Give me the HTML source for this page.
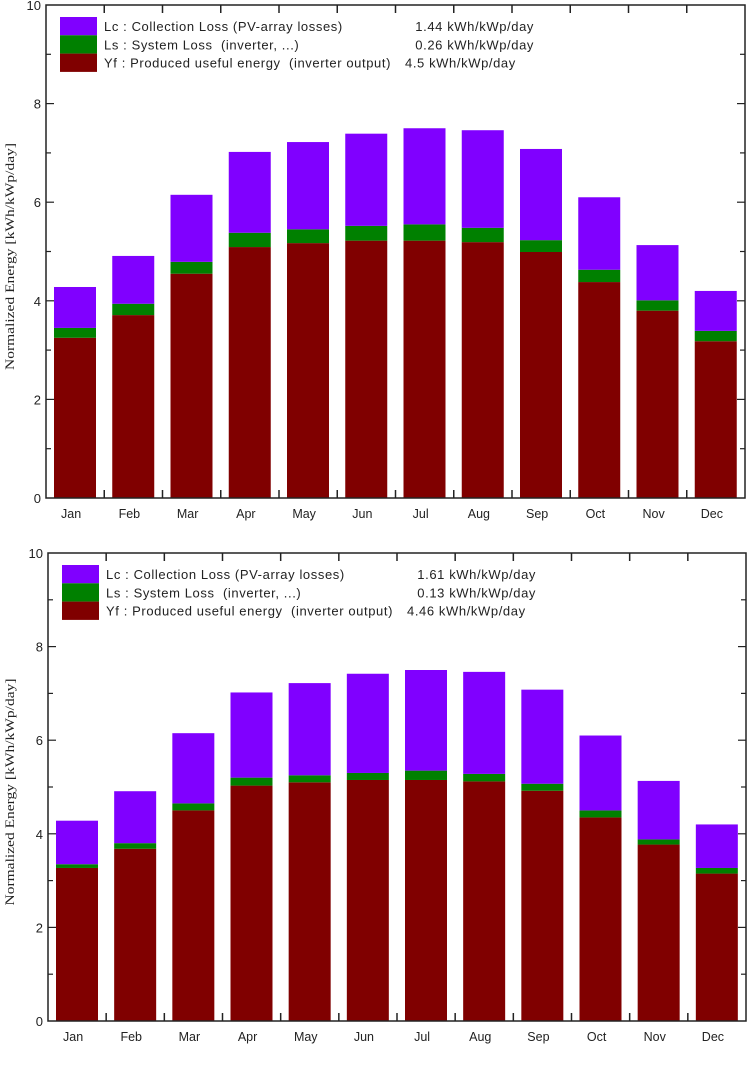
<!DOCTYPE html>
<html><head><meta charset="utf-8"><style>
html,body{margin:0;padding:0;background:#fff;}
svg{display:block;}
text{font-family:"Liberation Sans",sans-serif;fill:#222;}
</style></head><body>
<svg id="svg" width="749" height="1066" xmlns="http://www.w3.org/2000/svg"></svg>
<script>
const months=["Jan","Feb","Mar","Apr","May","Jun","Jul","Aug","Sep","Oct","Nov","Dec"];
const yTicks=[0,2,4,6,8,10];
const yfTop=[3.25,3.71,4.55,5.09,5.17,5.22,5.22,5.19,4.99,4.38,3.80,3.18];
const lsTop=[0.20,0.23,0.24,0.29,0.28,0.30,0.33,0.29,0.24,0.25,0.21,0.21];
const lcTop=[0.83,0.97,1.36,1.64,1.77,1.87,1.95,1.98,1.85,1.47,1.12,0.81];
const yfBot=[3.27,3.68,4.50,5.03,5.10,5.15,5.15,5.12,4.92,4.35,3.77,3.15];
const lsBot=[0.08,0.12,0.15,0.17,0.15,0.15,0.20,0.16,0.15,0.15,0.11,0.12];
const lcBot=[0.93,1.11,1.50,1.82,1.97,2.12,2.15,2.18,2.01,1.60,1.25,0.93];
const legendTop=["1.44 kWh/kWp/day","0.26 kWh/kWp/day","4.5 kWh/kWp/day"];
const legendBot=["1.61 kWh/kWp/day","0.13 kWh/kWp/day","4.46 kWh/kWp/day"];
const svg=document.getElementById('svg');
const NS="http://www.w3.org/2000/svg";
function mk(tag,attrs,parent){const e=document.createElementNS(NS,tag);for(const k in attrs)e.setAttribute(k,attrs[k]);(parent||svg).appendChild(e);return e;}
function chart(prefix,L,R,T,B,yf,ls,lc,leg){
  const g=mk('g',{});
  
  
  const y=v=>B-(B-T)*v/10;
  const slot=(R-L)/12;
  const colors=["#800000","#008000","#8000ff"];
  months.forEach((m,i)=>{
    const x=L+i*slot+8, w=42;
    let base=0;
    [[yf[i],0,'yf'],[ls[i],1,'ls'],[lc[i],2,'lc']].forEach(([v,c,n])=>{
      const r=mk('rect',{x:x,y:y(base+v),width:w,height:y(base)-y(base+v),fill:colors[c]},g);
      
      
      base+=v;
    });
    const t=mk('text',{x:L+i*slot+slot/2-4,y:B+20,'font-size':12.5,'text-anchor':'middle'},g);
    t.textContent=m;
    
    
    if(i>0){
      mk('line',{x1:L+i*slot,x2:L+i*slot,y1:T,y2:T+8,stroke:'#222','stroke-width':1.5},g);
      mk('line',{x1:L+i*slot,x2:L+i*slot,y1:B,y2:B-8,stroke:'#222','stroke-width':1.5},g);
    }
  });
  for(let v=1;v<10;v++){
    const len=v%2?5:8;
    mk('line',{x1:L,x2:L+len,y1:y(v),y2:y(v),stroke:'#222','stroke-width':1.2},g);
    mk('line',{x1:R,x2:R-len,y1:y(v),y2:y(v),stroke:'#222','stroke-width':1.2},g);
  }
  yTicks.forEach(v=>{
    const t=mk('text',{x:L-5,y:y(v)+5,'font-size':13,'text-anchor':'end'},g);
    t.textContent=v;
    
    
  });
  const ax=mk('rect',{x:L,y:T,width:R-L,height:B-T,fill:'none',stroke:'#222','stroke-width':1.5},g);
  
  
  const cy=(T+B)/2+5;
  const yl=mk('text',{x:14,y:cy,'font-size':12.5,'text-anchor':'middle',textLength:227,lengthAdjust:'spacingAndGlyphs',transform:'rotate(-90 14 '+cy+')',style:'font-family:"Liberation Serif",serif'},g);
  yl.textContent='Normalized Energy [kWh/kWp/day]';
  
  
  const lx=L+14, ly=T+12;
  const names=["Lc : Collection Loss (PV-array losses)","Ls : System Loss  (inverter, ...)","Yf : Produced useful energy  (inverter output)"];
  const sw=[2,1,0];
  names.forEach((n,k)=>{
    const r=mk('rect',{x:lx,y:ly+k*18.3,width:37,height:18.3,fill:colors[sw[k]]},g);
    
    
    const t=mk('text',{x:lx+44,y:ly+k*18.3+14,'font-size':13,'letter-spacing':0.6,style:'white-space:pre'},g);
    t.textContent=n;
    
    
    const vt=k<2?mk('text',{x:lx+474,y:ly+k*18.3+14,'font-size':13,'letter-spacing':0.6,'text-anchor':'end'},g):mk('text',{x:lx+345,y:ly+k*18.3+14,'font-size':13,'letter-spacing':0.6},g);
    vt.textContent=leg[k];
    
    
  });
}
chart('top',46,745,5,498,yfTop,lsTop,lcTop,legendTop);
chart('bottom',48,746,553,1021,yfBot,lsBot,lcBot,legendBot);
</script>
</body></html>
